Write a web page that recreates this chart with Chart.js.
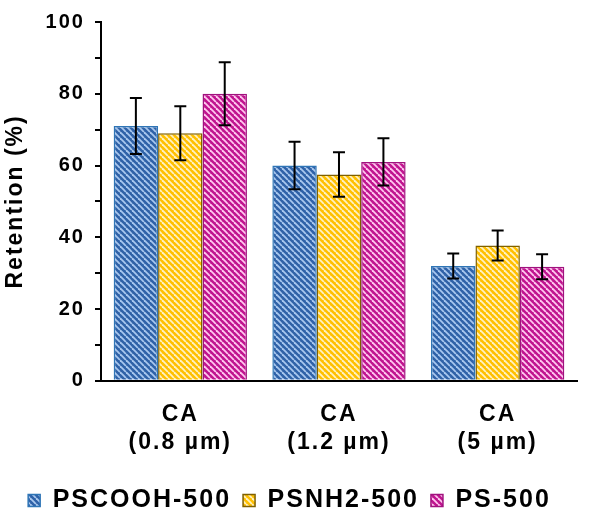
<!DOCTYPE html>
<html>
<head>
<meta charset="utf-8">
<script src="https://cdn.jsdelivr.net/npm/chart.js@4.4.1/dist/chart.umd.min.js"></script>
<style>
    html, body { margin: 0; padding: 0; background: #fff; }
    #wrap { width: 594px; height: 518px; position: relative; }
</style>
</head>
<body>
<div id="wrap"><canvas id="retentionChart"></canvas></div>
<script>
// Data
const categories = [['CA', '(0.8 µm)'], ['CA', '(1.2 µm)'], ['CA', '(5 µm)']];
const seriesNames = ['PSCOOH-500', 'PSNH2-500', 'PS-500'];
const pscoohValues = [71, 60, 32];
const psnh2Values = [69, 57.5, 37.7];
const psValues = [80, 61, 31.8];
const pscoohErrors = [7.8, 6.6, 3.5];
const psnh2Errors = [7.5, 6.2, 4.2];
const psErrors = [8.8, 6.6, 3.5];
const yTicks = [0, 20, 40, 60, 80, 100];

const FONT = 'Liberation Sans, Arial, sans-serif';

// Diagonal hatch fill like the original
function makeHatch(dark, light) {
    const size = 6;
    const c = document.createElement('canvas');
    c.width = size;
    c.height = size;
    const g = c.getContext('2d');
    g.fillStyle = dark;
    g.fillRect(0, 0, size, size);
    g.strokeStyle = light;
    g.lineWidth = 1.8;
    for (let k = -1; k <= 1; k++) {
        g.beginPath();
        g.moveTo(k * size, 0);
        g.lineTo(k * size + size, size);
        g.stroke();
    }
    return g.createPattern(c, 'repeat');
}

const hatchBlue = makeHatch('#2f62a8', '#a9c8ee');
const hatchYellow = makeHatch('#ffc000', '#fff1c4');
const hatchPink = makeHatch('#c0148f', '#ffc8ef');

// The original text is drawn wide, so space the letters out a bit
const spacingPlugin = {
    id: 'letterSpacing',
    beforeUpdate(chart) { chart.ctx.letterSpacing = '2px'; },
    beforeDraw(chart) { chart.ctx.letterSpacing = '2px'; }
};

// Error bars drawn through the y scale
const errorBarPlugin = {
    id: 'errorBars',
    afterDatasetsDraw(chart) {
        const ctx = chart.ctx;
        const y = chart.scales.y;
        ctx.save();
        ctx.strokeStyle = '#000';
        ctx.lineWidth = 2;
        chart.data.datasets.forEach((ds, di) => {
            const meta = chart.getDatasetMeta(di);
            meta.data.forEach((bar, i) => {
                const v = ds.data[i];
                const e = ds.errors[i];
                const top = y.getPixelForValue(v + e);
                const bot = y.getPixelForValue(v - e);
                const cap = 6;
                ctx.beginPath();
                ctx.moveTo(bar.x, top);
                ctx.lineTo(bar.x, bot);
                ctx.moveTo(bar.x - cap, top);
                ctx.lineTo(bar.x + cap, top);
                ctx.moveTo(bar.x - cap, bot);
                ctx.lineTo(bar.x + cap, bot);
                ctx.stroke();
            });
        });
        ctx.restore();
    }
};

const ctx = document.getElementById('retentionChart');
new Chart(ctx, {
    type: 'bar',
    data: {
        labels: categories,
        datasets: [{
            label: seriesNames[0],
            data: pscoohValues,
            errors: pscoohErrors,
            backgroundColor: hatchBlue,
            borderColor: '#2e75b6',
            borderWidth: 1.5
        }, {
            label: seriesNames[1],
            data: psnh2Values,
            errors: psnh2Errors,
            backgroundColor: hatchYellow,
            borderColor: '#7f6000',
            borderWidth: 1.5
        }, {
            label: seriesNames[2],
            data: psValues,
            errors: psErrors,
            backgroundColor: hatchPink,
            borderColor: '#a0127e',
            borderWidth: 1.5
        }]
    },
    options: {
        responsive: true,
        maintainAspectRatio: false,
        animation: false,
        categoryPercentage: 0.84,
        barPercentage: 1,
        layout: {
            padding: { top: 19, right: 17, left: 2, bottom: -5 }
        },
        plugins: {
            legend: {
                position: 'bottom',
                labels: {
                    color: '#000',
                    boxWidth: 12,
                    boxHeight: 12,
                    padding: 12,
                    font: { family: FONT, size: 25, weight: 'bold' }
                }
            },
            tooltip: { enabled: false }
        },
        scales: {
            x: {
                grid: { display: false, drawTicks: false },
                border: { color: '#000', width: 2 },
                ticks: {
                    color: '#000',
                    padding: 20,
                    maxRotation: 0,
                    font: { family: FONT, size: 23, weight: 'bold', lineHeight: 1.2 }
                }
            },
            y: {
                min: 0,
                max: 100,
                afterBuildTicks: (axis) => {
                    const t = [];
                    for (let v = 0; v <= 100; v += 10) t.push({ value: v });
                    axis.ticks = t;
                },
                grid: { drawOnChartArea: false, color: '#000', tickLength: 6, lineWidth: 2 },
                border: { color: '#000', width: 2 },
                ticks: {
                    color: '#000',
                    padding: 10,
                    font: { family: FONT, size: 20, weight: 'bold' },
                    callback: (v) => yTicks.includes(v) ? v : ''
                },
                title: {
                    display: true,
                    text: 'Retention (%)',
                    color: '#000',
                    padding: { top: 0, bottom: 6 },
                    font: { family: FONT, size: 23, weight: 'bold' }
                }
            }
        }
    },
    plugins: [spacingPlugin, errorBarPlugin]
});
</script>
</body>
</html>
